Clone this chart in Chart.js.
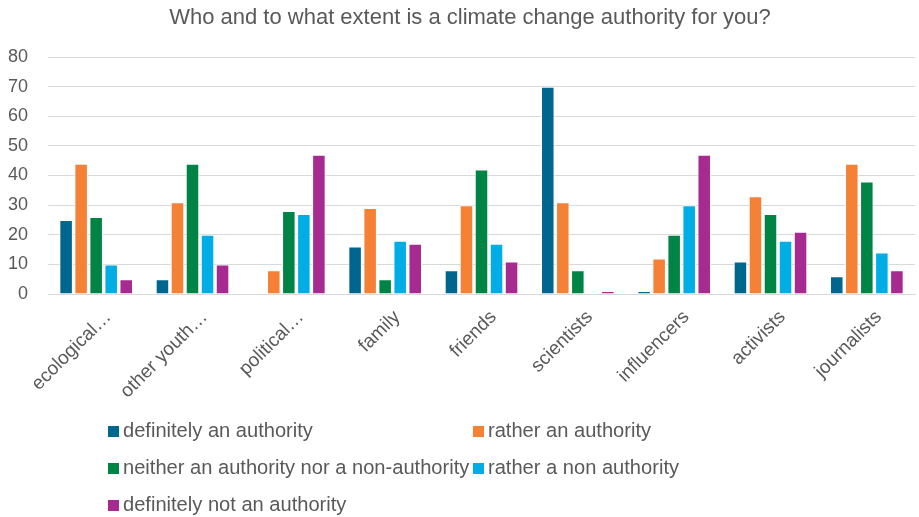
<!DOCTYPE html>
<html>
<head>
<meta charset="utf-8">
<script src="https://cdn.jsdelivr.net/npm/chart.js@4/dist/chart.umd.min.js"></script>
<style>
  html, body { margin: 0; padding: 0; background: #fff; }
  #wrap { position: relative; width: 919px; height: 517px; }
  #chart { position: absolute; left: 0; top: 0; }
  #title {
    position: absolute;
    left: 0;
    width: 940px;
    top: 4px;
    text-align: center;
    font-family: "Liberation Sans", Arial, sans-serif;
    font-size: 22px;
    line-height: 26px;
    color: #595959;
    white-space: nowrap;
  }
  .legend-item {
    position: absolute;
    font-family: "Liberation Sans", Arial, sans-serif;
    font-size: 20.1px;
    color: #595959;
    white-space: nowrap;
    line-height: 24px;
  }
  .legend-item span.box {
    display: inline-block;
    width: 11px;
    height: 11px;
    margin-right: 4px;
    vertical-align: 0px;
  }
</style>
</head>
<body>
<div id="wrap">
  <canvas id="chart" width="919" height="517"></canvas>
  <div id="title"></div>
  <div id="legend"></div>
</div>
<script>
const chartTitle = 'Who and to what extent is a climate change authority for you?';

const categories = ['ecological…', 'other youth…', 'political…', 'family', 'friends',
  'scientists', 'influencers', 'activists', 'journalists'];

const definitelyAuthority = [25, 5, 0, 16, 8, 70, 1, 11, 6];
const ratherAuthority = [44, 31, 8, 29, 30, 31, 12, 33, 44];
const neitherAuthority = [26, 44, 28, 5, 42, 8, 20, 27, 38];
const ratherNonAuthority = [10, 20, 27, 18, 17, 0, 30, 18, 14];
const definitelyNotAuthority = [5, 10, 47, 17, 11, 1, 47, 21, 8];

const yTicks = [0, 10, 20, 30, 40, 50, 60, 70, 80];

const seriesNames = ['definitely an authority', 'rather an authority',
  'neither an authority nor a non-authority', 'rather a non authority',
  'definitely not an authority'];
const seriesColors = ['#00668E', '#F58137', '#008445', '#00AEE5', '#A62A8F'];

const FONT = '"Liberation Sans", Arial, sans-serif';
const GREY = '#595959';

const values = [definitelyAuthority, ratherAuthority, neitherAuthority,
  ratherNonAuthority, definitelyNotAuthority];

document.getElementById('title').textContent = chartTitle;

const ctx = document.getElementById('chart').getContext('2d');

const chart = new Chart(ctx, {
  type: 'bar',
  data: {
    labels: categories,
    datasets: values.map((v, i) => ({
      label: seriesNames[i],
      data: v,
      backgroundColor: seriesColors[i],
      borderColor: '#ffffff',
      borderWidth: 1,
      barPercentage: 0.9,
      categoryPercentage: 0.78
    }))
  },
  options: {
    responsive: false,
    animation: false,
    layout: { padding: { left: 0, right: 4, top: 57, bottom: 117 } },
    plugins: {
      legend: { display: false },
      tooltip: { enabled: false },
      title: { display: false }
    },
    scales: {
      x: {
        grid: { display: false },
        border: { color: '#d9d9d9', width: 1 },
        ticks: {
          color: GREY,
          font: { family: FONT, size: 19 },
          minRotation: 45,
          maxRotation: 45,
          autoSkip: false,
          padding: 4,
          labelOffset: 12
        },
        afterFit(scale) { scale.height = 106; }
      },
      y: {
        min: 0,
        max: 80,
        afterBuildTicks(scale) { scale.ticks = yTicks.map(v => ({ value: v })); },
        grid: { color: '#d9d9d9', lineWidth: 1, drawTicks: false },
        border: { display: false },
        ticks: {
          color: GREY,
          font: { family: FONT, size: 18 },
          padding: 20
        },
        afterFit(scale) { scale.width = 48; }
      }
    }
  }
});

// legend laid out in two columns under the axis
const legendPos = [[108, 418], [473, 418], [108, 455], [473, 455], [108, 492]];
const legendEl = document.getElementById('legend');
chart.data.datasets.forEach((ds, i) => {
  const item = document.createElement('div');
  item.className = 'legend-item';
  item.style.left = legendPos[i][0] + 'px';
  item.style.top = legendPos[i][1] + 'px';
  item.innerHTML = '<span class="box" style="background:' + ds.backgroundColor + '"></span>' + ds.label;
  legendEl.appendChild(item);
});
</script>
</body>
</html>
